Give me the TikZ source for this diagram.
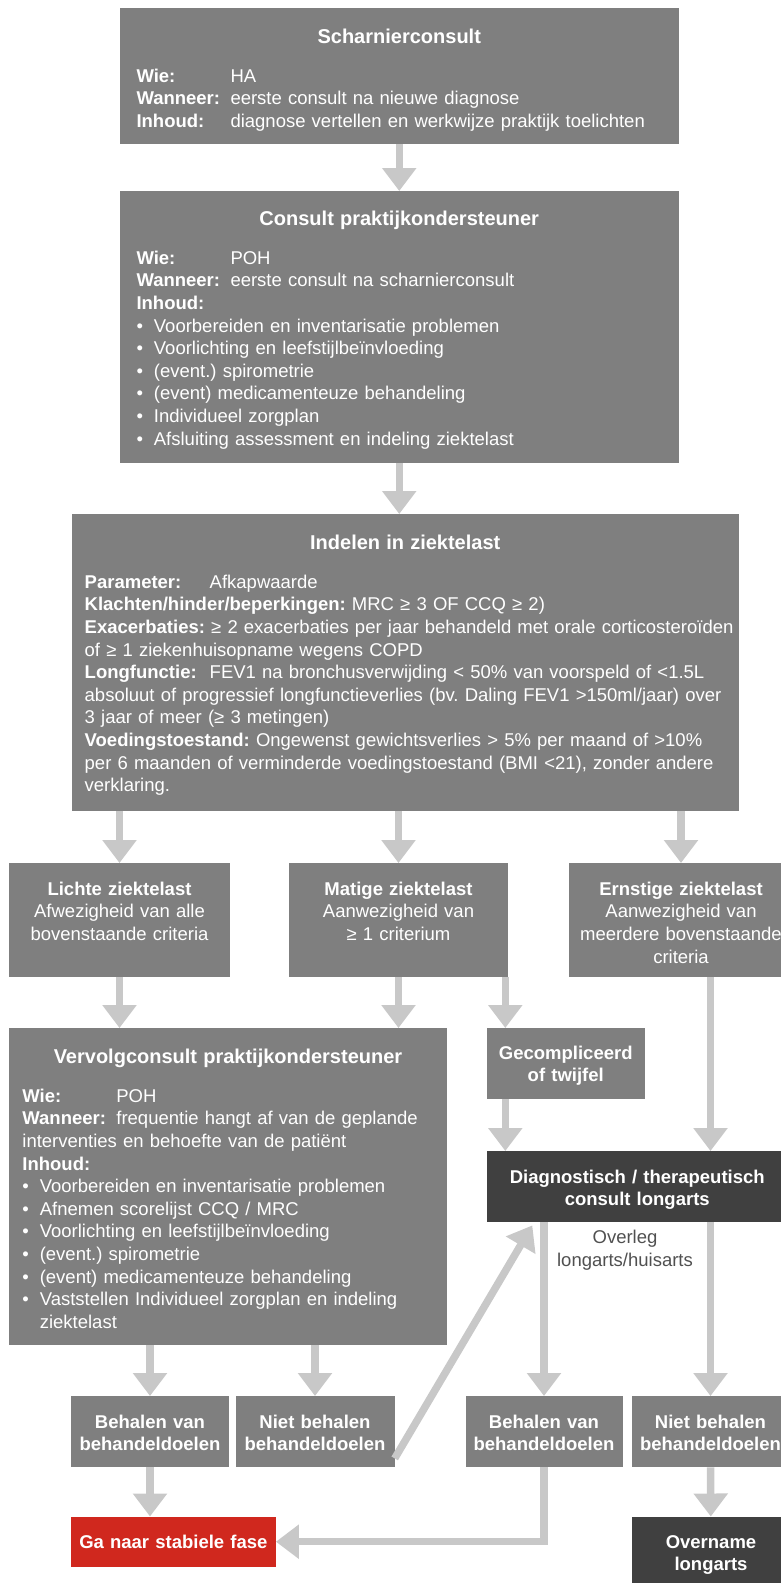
\documentclass[tikz,border=0pt]{standalone}
\usepackage{fontspec}
\setmainfont{Liberation Sans}
\usetikzlibrary{arrows.meta}
\frenchspacing

\definecolor{vakgrijs}{RGB}{127,127,127}
\definecolor{vakdonker}{RGB}{64,64,64}
\definecolor{vakrood}{RGB}{208,40,30}
\definecolor{pijlgrijs}{RGB}{200,200,200}
\definecolor{tekstgrijs}{RGB}{80,80,80}

\newcommand{\veld}[2][94pt]{\makebox[#1][l]{\bfseries #2}}
\newcommand{\punt}{\makebox[17.4pt][l]{\textbullet}}
\newcommand{\kop}[1]{{\centering\fontsize{20}{24}\selectfont\bfseries #1\par}\vspace{16pt}}
\newcommand{\romp}[1]{\raggedright\leftskip=#1\relax}

\tikzset{
  vak/.style={fill=vakgrijs, text=white, inner sep=0pt, anchor=north},
  donker/.style={vak, fill=vakdonker},
  rood/.style={vak, fill=vakrood},
  midden/.style={align=center},
  vet/.style={font=\fontsize{18.5}{22.6}\selectfont\bfseries},
  kort/.style={text height=32pt, text depth=39pt},
  pijl/.style={draw=pijlgrijs, line width=7.5pt, -{Triangle[length=23pt,width=33pt]}},
}

\begin{document}
\begin{tikzpicture}[x=1pt, y=-1pt, font=\fontsize{18.5}{22.6}\selectfont]
\useasboundingbox (0,0) rectangle (781,1583);
\clip (0,0) rectangle (781,1583);

% consulten bovenaan
\node[vak, text width=559.5pt, text height=35.5pt, text depth=100.5pt] (scharnier) at (399.25,8)
  {\kop{Scharnierconsult}\romp{17pt}%
   \veld{Wie:}HA\\
   \veld{Wanneer:}eerste consult na nieuwe diagnose\\
   \veld{Inhoud:}diagnose vertellen en werkwijze praktijk toelichten\par};
\node[vak, text width=559.5pt, text height=34.5pt, text depth=237.5pt] (poh) at (399.25,191)
  {\kop{Consult praktijkondersteuner}\romp{17pt}%
   \veld{Wie:}POH\\
   \veld{Wanneer:}eerste consult na scharnierconsult\\
   \veld{Inhoud:}\\
   \punt Voorbereiden en inventarisatie problemen\\
   \punt Voorlichting en leefstijlbeïnvloeding\\
   \punt (event.) spirometrie\\
   \punt (event) medicamenteuze behandeling\\
   \punt Individueel zorgplan\\
   \punt Afsluiting assessment en indeling ziektelast\par};
\node[vak, text width=666.5pt, text height=35.5pt, text depth=261.5pt] (indelen) at (405.25,514)
  {\kop{Indelen in ziektelast}\romp{12.7pt}%
   \veld[125pt]{Parameter:}Afkapwaarde\\
   \textbf{Klachten/hinder/beperkingen:} MRC ≥ 3 OF CCQ ≥ 2)\\
   \textbf{Exacerbaties:} ≥ 2 exacerbaties per jaar behandeld met orale corticosteroïden\\
   of ≥ 1 ziekenhuisopname wegens COPD\\
   \veld[125pt]{Longfunctie:}FEV1 na bronchusverwijding < 50\% van voorspeld of <1.5L\\
   absoluut of progressief longfunctieverlies (bv. Daling FEV1 >150ml/jaar) over\\
   3 jaar of meer (≥ 3 metingen)\\
   \textbf{Voedingstoestand:} Ongewenst gewichtsverlies > 5\% per maand of >10\%\\
   per 6 maanden of verminderde voedingstoestand (BMI <21), zonder andere\\
   verklaring.\par};

% ziektelast
\node[vak, midden, text width=221pt, text height=32pt, text depth=82pt] (lichte) at (119.5,863)
  {\textbf{Lichte ziektelast}\\ Afwezigheid van alle\\ bovenstaande criteria};
\node[vak, midden, text width=219pt, text height=32pt, text depth=82pt] (matige) at (398.5,863)
  {\textbf{Matige ziektelast}\\ Aanwezigheid van\\ ≥ 1 criterium};
\node[vak, midden, text width=224pt, text height=32pt, text depth=82pt] (ernstige) at (681,863)
  {\textbf{Ernstige ziektelast}\\ Aanwezigheid van\\ meerdere bovenstaande\\ criteria};

% vervolg
\node[vak, text width=438pt, text height=35.5pt, text depth=281.5pt] (vervolg) at (228,1028)
  {\kop{Vervolgconsult praktijkondersteuner}\romp{13.4pt}%
   \veld{Wie:}POH\\
   \veld{Wanneer:}frequentie hangt af van de geplande\\
   interventies en behoefte van de patiënt\\
   \veld{Inhoud:}\\
   \punt Voorbereiden en inventarisatie problemen\\
   \punt Afnemen scorelijst CCQ / MRC\\
   \punt Voorlichting en leefstijlbeïnvloeding\\
   \punt (event.) spirometrie\\
   \punt (event) medicamenteuze behandeling\\
   \punt Vaststellen Individueel zorgplan en indeling\\
   \hspace*{17.4pt}ziektelast\par};
\node[vak, midden, vet, kort, text width=158.5pt, text height=31pt, text depth=40pt] (gecomp) at (565.75,1028)
  {Gecompliceerd\\ of twijfel};
\node[donker, midden, vet, kort, text width=301.5pt] (diag) at (637.25,1151)
  {Diagnostisch / therapeutisch\\ consult longarts};
\node[text=tekstgrijs, align=center, inner sep=0pt] (overleg) at (625,1250)
  {Overleg\\ longarts/huisarts};

% behandeldoelen
\node[vak, midden, vet, kort, text width=158pt] (behalen1) at (150,1396) {Behalen van\\ behandeldoelen};
\node[vak, midden, vet, kort, text width=159pt] (niet1) at (315,1396) {Niet behalen\\ behandeldoelen};
\node[vak, midden, vet, kort, text width=157pt] (behalen2) at (544,1396) {Behalen van\\ behandeldoelen};
\node[vak, midden, vet, kort, text width=158pt] (niet2) at (710.5,1396) {Niet behalen\\ behandeldoelen};

% einde
\node[rood, midden, vet, text width=204.7pt, text height=31.5pt, text depth=18.5pt] (stabiel) at (173.35,1516.5)
  {Ga naar stabiele fase};
\node[donker, midden, vet, text width=158pt, text height=31.5pt, text depth=70pt] (overname) at (711,1516.5)
  {Overname\\ longarts};

\coordinate (gecompin) at ([xshift=19pt]gecomp.north west);
\coordinate (gecompuit) at ([xshift=19pt]gecomp.south west);

% pijlen
\draw[pijl] (scharnier.south) -- (scharnier.south |- poh.north);
\draw[pijl] (poh.south) -- (poh.south |- indelen.north);
\draw[pijl] (indelen.south -| lichte) -- (lichte);
\draw[pijl] (indelen.south -| matige) -- (matige);
\draw[pijl] (indelen.south -| ernstige) -- (ernstige);
\draw[pijl] (lichte) -- (lichte |- vervolg.north);
\draw[pijl] (matige) -- (matige |- vervolg.north);
\draw[pijl] (gecompin |- matige.south) -- (gecompin);
\draw[pijl] (gecompuit) -- (gecompuit |- diag.north);
\draw[pijl] (ernstige.south -| niet2) -- (niet2 |- diag.north);
\draw[pijl] (behalen1 |- vervolg.south) -- (behalen1);
\draw[pijl] (niet1 |- vervolg.south) -- (niet1);
\draw[pijl] (behalen2 |- diag.south) -- (behalen2);
\draw[pijl] (niet2 |- diag.south) -- (niet2);
\draw[pijl] ([yshift=9pt]niet1.south east) -- ([xshift=46pt,yshift=-3pt]diag.south west);
\draw[pijl] (behalen1) -- (behalen1 |- stabiel.north);
\draw[pijl] (behalen2.south) |- (stabiel.east);
\draw[pijl] (niet2) -- (overname);
\end{tikzpicture}
\end{document}
